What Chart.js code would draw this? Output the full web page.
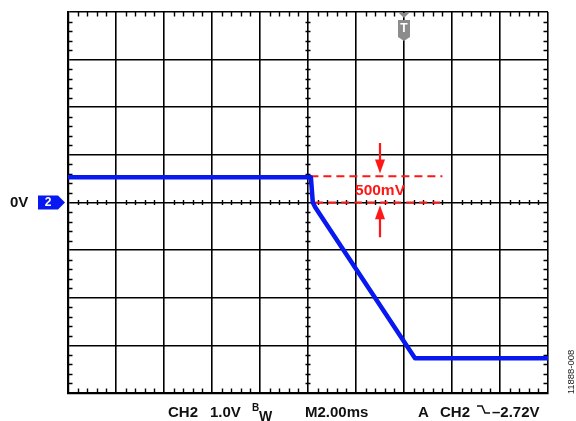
<!DOCTYPE html>
<html><head><meta charset="utf-8">
<script src="https://cdn.jsdelivr.net/npm/chart.js@4.4.1/dist/chart.umd.min.js"></script>
<style>html,body{margin:0;padding:0;background:#fff;overflow:hidden}canvas{display:block}</style>
</head><body>
<canvas id="c" width="576" height="421"></canvas>
<script>
// Time axis in ms (2 ms/div, 10 div), voltage axis in V (1 V/div, 8 div)
const xDivMs = 2;
const yDivV = 1;
const timeMs   = [0, 10.12, 10.2, 10.3, 14.46, 20];
const ch2Volts = [0.53, 0.53, 0.0, -0.1, -3.27, -3.27];
const cursorUpperX = [10.1, 15.6];
const cursorUpperV = [0.55, 0.55];
const cursorLowerX = [10.3, 15.6];
const cursorLowerV = [0, 0];
const triggerMs = 14;
const arrowMs = 13.0;
const arrowDownV = [1.25, 0.61];   // tail, tip
const arrowUpV   = [-0.73, -0.06]; // tail, tip
const deltaLabel = '500mV';

const BLUE = '#0818f0', RED = '#ff1616';
const FONT = '"Liberation Sans", Arial, sans-serif';

const pts = (xs, ys) => xs.map((x, i) => ({x, y: ys[i]}));

const scopePlugin = {
  id: 'scope',
  beforeDatasetsDraw(chart) {
    const {ctx, chartArea: a, scales: {x, y}} = chart;
    ctx.save();
    ctx.strokeStyle = '#000';
    ctx.lineWidth = 1.4;
    ctx.beginPath();
    const xc = x.getPixelForValue(10), yc = y.getPixelForValue(0);
    for (let t = 0.4; t < 20; t += 0.4) {
      if (Math.abs(t / 2 - Math.round(t / 2)) < 1e-6) continue;
      const px = Math.round(x.getPixelForValue(t)) + 0.5;
      ctx.moveTo(px, a.top); ctx.lineTo(px, a.top + 4.5);
      ctx.moveTo(px, a.bottom); ctx.lineTo(px, a.bottom - 4.5);
      ctx.moveTo(px, yc - 2.5); ctx.lineTo(px, yc + 2.5);
    }
    for (let v = -3.8; v < 4; v += 0.2) {
      if (Math.abs(v - Math.round(v)) < 1e-6) continue;
      const py = Math.round(y.getPixelForValue(v)) + 0.5;
      ctx.moveTo(a.left, py); ctx.lineTo(a.left + 4.5, py);
      ctx.moveTo(a.right, py); ctx.lineTo(a.right - 4.5, py);
      ctx.moveTo(xc - 2.5, py); ctx.lineTo(xc + 2.5, py);
    }
    ctx.stroke();
    ctx.restore();
  },
  afterDraw(chart) {
    const {ctx, chartArea: a, scales: {x, y}} = chart;
    ctx.save();
    // arrows
    const ax = x.getPixelForValue(arrowMs);
    const drawArrow = (tailV, tipV) => {
      const t = y.getPixelForValue(tailV), p = y.getPixelForValue(tipV);
      const dir = p > t ? 1 : -1;
      ctx.strokeStyle = RED; ctx.fillStyle = RED; ctx.lineWidth = 2.2;
      ctx.beginPath(); ctx.moveTo(ax, t); ctx.lineTo(ax, p - dir * 10); ctx.stroke();
      ctx.beginPath(); ctx.moveTo(ax, p); ctx.lineTo(ax - 5, p - dir * 14); ctx.lineTo(ax + 5, p - dir * 14); ctx.closePath(); ctx.fill();
    };
    drawArrow(arrowDownV[0], arrowDownV[1]);
    drawArrow(arrowUpV[0], arrowUpV[1]);
    ctx.fillStyle = RED;
    ctx.font = 'bold 15.5px ' + FONT;
    ctx.textAlign = 'center'; ctx.textBaseline = 'middle';
    ctx.fillText(deltaLabel, ax, (y.getPixelForValue(cursorUpperV[0]) + y.getPixelForValue(0)) / 2 + 1);

    // trigger marker
    const tx = x.getPixelForValue(triggerMs);
    ctx.fillStyle = '#8c8c8c';
    ctx.beginPath(); ctx.moveTo(tx - 5, a.top + 1); ctx.lineTo(tx + 5, a.top + 1); ctx.lineTo(tx, a.top + 6); ctx.closePath(); ctx.fill();
    ctx.beginPath();
    ctx.moveTo(tx - 6, a.top + 8); ctx.lineTo(tx + 6, a.top + 8); ctx.lineTo(tx + 6, a.top + 25);
    ctx.lineTo(tx, a.top + 29); ctx.lineTo(tx - 6, a.top + 25); ctx.closePath(); ctx.fill();
    ctx.fillStyle = '#fff';
    ctx.font = 'bold 12px ' + FONT;
    ctx.textAlign = 'center'; ctx.textBaseline = 'middle';
    ctx.fillText('T', tx, a.top + 17);

    // channel marker
    const zy = y.getPixelForValue(0);
    ctx.fillStyle = BLUE;
    ctx.beginPath();
    ctx.moveTo(38, zy - 7); ctx.lineTo(58, zy - 7); ctx.lineTo(65, zy); ctx.lineTo(58, zy + 7); ctx.lineTo(38, zy + 7);
    ctx.closePath(); ctx.fill();
    ctx.fillStyle = '#fff';
    ctx.font = 'bold 12px ' + FONT;
    ctx.fillText('2', 48, zy + 0.5);
    ctx.fillStyle = '#111';
    ctx.font = 'bold 15px ' + FONT;
    ctx.textAlign = 'left';
    ctx.fillText('0V', 10, zy + 0.5);

    // bottom status line
    ctx.textBaseline = 'alphabetic';
    ctx.font = 'bold 15px ' + FONT;
    const base = 417;
    ctx.fillText('CH2', 168, base);
    ctx.fillText('1.0V', 210, base);
    ctx.font = 'bold 10px ' + FONT;
    ctx.fillText('B', 252, base - 6);
    ctx.font = 'bold 14px ' + FONT;
    ctx.fillText('W', 259, base + 4);
    ctx.font = 'bold 15px ' + FONT;
    ctx.fillText('M2.00ms', 305, base);
    ctx.fillText('A', 418, base);
    ctx.fillText('CH2', 440, base);
    ctx.fillText('\u20132.72V', 492, base);
    ctx.strokeStyle = '#111'; ctx.lineWidth = 1.5;
    ctx.beginPath();
    ctx.moveTo(477, 406); ctx.lineTo(482, 406); ctx.lineTo(485, 413); ctx.lineTo(490, 413);
    ctx.stroke();

    // figure id
    ctx.save();
    ctx.translate(571, 372);
    ctx.rotate(-Math.PI / 2);
    ctx.font = '9.5px ' + FONT;
    ctx.fillStyle = '#222';
    ctx.textAlign = 'center'; ctx.textBaseline = 'middle';
    ctx.fillText('11888-008', 0, 0);
    ctx.restore();
    ctx.restore();
  }
};

new Chart(document.getElementById('c'), {
  type: 'scatter',
  data: {
    datasets: [
      { data: pts(timeMs, ch2Volts), showLine: true, borderColor: BLUE, borderWidth: 4.5, pointRadius: 0, tension: 0, borderJoinStyle: 'round' },
      { data: pts(cursorUpperX, cursorUpperV), showLine: true, borderColor: RED, borderWidth: 2, borderDash: [8, 5], pointRadius: 0 },
      { data: pts(cursorLowerX, cursorLowerV), showLine: true, borderColor: RED, borderWidth: 2, borderDash: [8, 5], pointRadius: 0 }
    ]
  },
  options: {
    responsive: false,
    devicePixelRatio: 1,
    animation: false,
    events: [],
    layout: { padding: { left: 68, right: 28, top: 12, bottom: 28 } },
    plugins: { legend: { display: false }, tooltip: { enabled: false } },
    scales: {
      x: {
        type: 'linear', min: 0, max: 20,
        ticks: { display: false, stepSize: xDivMs },
        grid: { color: '#000', lineWidth: 1.6, drawTicks: false },
        border: { color: '#000', width: 2.2 }
      },
      y: {
        type: 'linear', min: -4, max: 4,
        ticks: { display: false, stepSize: yDivV },
        grid: { color: '#000', lineWidth: 1.6, drawTicks: false },
        border: { color: '#000', width: 2.2 }
      }
    }
  },
  plugins: [scopePlugin]
});
</script>
</body></html>
